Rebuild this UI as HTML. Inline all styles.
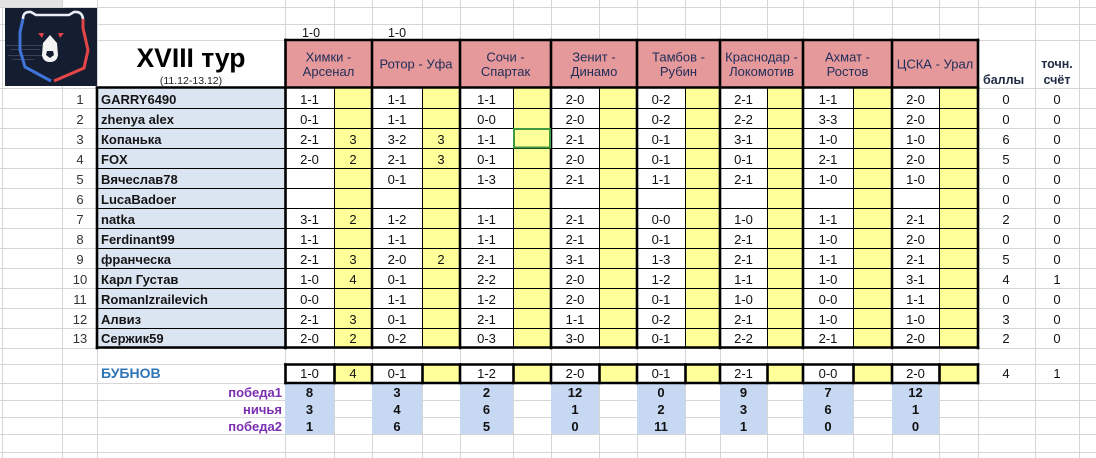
<!DOCTYPE html>
<html><head><meta charset="utf-8"><style>
html,body{margin:0;padding:0;background:#fff;}
svg{display:block;}
text{font-family:"Liberation Sans","Noto Sans CJK SC",sans-serif;}
</style></head><body>
<svg width="1096" height="458" viewBox="0 0 1096 458" xmlns="http://www.w3.org/2000/svg">
<rect x="0" y="0" width="1096" height="458" fill="#fff"/>
<!-- gridlines -->
<g stroke="#d6d6d6" stroke-width="1">
<line x1="2.5" y1="0" x2="2.5" y2="458"/><line x1="62.5" y1="0" x2="62.5" y2="458"/><line x1="97.5" y1="0" x2="97.5" y2="458"/>
<line x1="285.5" y1="0" x2="285.5" y2="458"/><line x1="334.5" y1="0" x2="334.5" y2="458"/><line x1="372.5" y1="0" x2="372.5" y2="458"/>
<line x1="422.5" y1="0" x2="422.5" y2="458"/><line x1="460.5" y1="0" x2="460.5" y2="458"/><line x1="513.5" y1="0" x2="513.5" y2="458"/>
<line x1="551.5" y1="0" x2="551.5" y2="458"/><line x1="599.5" y1="0" x2="599.5" y2="458"/><line x1="637.5" y1="0" x2="637.5" y2="458"/>
<line x1="685.5" y1="0" x2="685.5" y2="458"/><line x1="720.5" y1="0" x2="720.5" y2="458"/><line x1="767.5" y1="0" x2="767.5" y2="458"/>
<line x1="803.5" y1="0" x2="803.5" y2="458"/><line x1="853.5" y1="0" x2="853.5" y2="458"/><line x1="892.5" y1="0" x2="892.5" y2="458"/>
<line x1="939.5" y1="0" x2="939.5" y2="458"/><line x1="978.5" y1="0" x2="978.5" y2="458"/><line x1="1035.5" y1="0" x2="1035.5" y2="458"/>
<line x1="1079.5" y1="0" x2="1079.5" y2="458"/>
<line x1="0" y1="7.5" x2="1096" y2="7.5"/><line x1="0" y1="24.5" x2="1096" y2="24.5"/><line x1="0" y1="40.5" x2="1096" y2="40.5"/>
<line x1="0" y1="88.5" x2="1096" y2="88.5"/><line x1="0" y1="108.5" x2="1096" y2="108.5"/><line x1="0" y1="128.5" x2="1096" y2="128.5"/>
<line x1="0" y1="148.5" x2="1096" y2="148.5"/><line x1="0" y1="168.5" x2="1096" y2="168.5"/><line x1="0" y1="188.5" x2="1096" y2="188.5"/>
<line x1="0" y1="208.5" x2="1096" y2="208.5"/><line x1="0" y1="228.5" x2="1096" y2="228.5"/><line x1="0" y1="248.5" x2="1096" y2="248.5"/>
<line x1="0" y1="268.5" x2="1096" y2="268.5"/><line x1="0" y1="288.5" x2="1096" y2="288.5"/><line x1="0" y1="308.5" x2="1096" y2="308.5"/>
<line x1="0" y1="328.5" x2="1096" y2="328.5"/><line x1="0" y1="348.5" x2="1096" y2="348.5"/><line x1="0" y1="364.5" x2="1096" y2="364.5"/>
<line x1="0" y1="383.5" x2="1096" y2="383.5"/><line x1="0" y1="400.5" x2="1096" y2="400.5"/><line x1="0" y1="417.5" x2="1096" y2="417.5"/>
<line x1="0" y1="434.5" x2="1096" y2="434.5"/><line x1="0" y1="452.5" x2="1096" y2="452.5"/>
</g>
<rect x="0" y="0" width="62" height="7" fill="#e4e4e4"/>
<!-- title area white -->
<rect x="98" y="41" width="187" height="47" fill="#fff"/>
<!-- header pink -->
<rect x="285" y="40" width="693" height="48" fill="#e6999b"/>
<!-- name column -->
<rect x="97" y="88" width="188" height="260" fill="#dbe5f1"/>
<!-- score columns white -->
<g fill="#fff">
<rect x="285" y="88" width="49" height="260"/><rect x="372" y="88" width="50" height="260"/><rect x="460" y="88" width="53" height="260"/>
<rect x="551" y="88" width="48" height="260"/><rect x="637" y="88" width="48" height="260"/><rect x="720" y="88" width="47" height="260"/>
<rect x="803" y="88" width="50" height="260"/><rect x="892" y="88" width="47" height="260"/>
<rect x="285" y="364" width="49" height="19"/><rect x="372" y="364" width="50" height="19"/><rect x="460" y="364" width="53" height="19"/>
<rect x="551" y="364" width="48" height="19"/><rect x="637" y="364" width="48" height="19"/><rect x="720" y="364" width="47" height="19"/>
<rect x="803" y="364" width="50" height="19"/><rect x="892" y="364" width="47" height="19"/>
</g>
<!-- yellow pts columns -->
<g fill="#ffff99">
<rect x="334" y="88" width="38" height="260"/><rect x="422" y="88" width="38" height="260"/><rect x="513" y="88" width="38" height="260"/>
<rect x="599" y="88" width="38" height="260"/><rect x="685" y="88" width="35" height="260"/><rect x="767" y="88" width="36" height="260"/>
<rect x="853" y="88" width="39" height="260"/><rect x="939" y="88" width="39" height="260"/>
<rect x="334" y="364" width="38" height="19"/><rect x="422" y="364" width="38" height="19"/><rect x="513" y="364" width="38" height="19"/>
<rect x="599" y="364" width="38" height="19"/><rect x="685" y="364" width="35" height="19"/><rect x="767" y="364" width="36" height="19"/>
<rect x="853" y="364" width="39" height="19"/><rect x="939" y="364" width="39" height="19"/>
</g>
<!-- stats blue -->
<g fill="#c7d8f2">
<rect x="285" y="384" width="49" height="50"/><rect x="372" y="384" width="50" height="50"/><rect x="460" y="384" width="53" height="50"/>
<rect x="551" y="384" width="48" height="50"/><rect x="637" y="384" width="48" height="50"/><rect x="720" y="384" width="47" height="50"/>
<rect x="803" y="384" width="50" height="50"/><rect x="892" y="384" width="47" height="50"/>
</g>
<!-- thin black row lines -->
<g stroke="#000" stroke-width="1">
<line x1="97" y1="108.5" x2="978" y2="108.5"/><line x1="97" y1="128.5" x2="978" y2="128.5"/><line x1="97" y1="148.5" x2="978" y2="148.5"/>
<line x1="97" y1="168.5" x2="978" y2="168.5"/><line x1="97" y1="188.5" x2="978" y2="188.5"/><line x1="97" y1="208.5" x2="978" y2="208.5"/>
<line x1="97" y1="228.5" x2="978" y2="228.5"/><line x1="97" y1="248.5" x2="978" y2="248.5"/><line x1="97" y1="268.5" x2="978" y2="268.5"/>
<line x1="97" y1="288.5" x2="978" y2="288.5"/><line x1="97" y1="308.5" x2="978" y2="308.5"/><line x1="97" y1="328.5" x2="978" y2="328.5"/>
<line x1="334.5" y1="88" x2="334.5" y2="348"/><line x1="422.5" y1="88" x2="422.5" y2="348"/><line x1="513.5" y1="88" x2="513.5" y2="348"/>
<line x1="599.5" y1="88" x2="599.5" y2="348"/><line x1="685.5" y1="88" x2="685.5" y2="348"/><line x1="767.5" y1="88" x2="767.5" y2="348"/>
<line x1="853.5" y1="88" x2="853.5" y2="348"/><line x1="939.5" y1="88" x2="939.5" y2="348"/>
</g>
<!-- thick black lines -->
<g stroke="#000" stroke-width="2.6" stroke-linecap="square">
<line x1="285.5" y1="40" x2="978" y2="40"/>
<line x1="97" y1="87.5" x2="978" y2="87.5"/>
<line x1="97" y1="347.5" x2="978" y2="347.5"/>
<line x1="97" y1="88" x2="97" y2="348"/>
<line x1="285.5" y1="40" x2="285.5" y2="348"/><line x1="372" y1="40" x2="372" y2="348"/><line x1="460" y1="40" x2="460" y2="348"/>
<line x1="551" y1="40" x2="551" y2="348"/><line x1="637" y1="40" x2="637" y2="348"/><line x1="720" y1="40" x2="720" y2="348"/>
<line x1="803" y1="40" x2="803" y2="348"/><line x1="892" y1="40" x2="892" y2="348"/><line x1="978" y1="40" x2="978" y2="348"/>
<line x1="285.5" y1="364.5" x2="978" y2="364.5"/><line x1="285.5" y1="383" x2="978" y2="383"/>
<line x1="285.5" y1="364.5" x2="285.5" y2="383"/><line x1="334.5" y1="364.5" x2="334.5" y2="383"/><line x1="372" y1="364.5" x2="372" y2="383"/>
<line x1="422.5" y1="364.5" x2="422.5" y2="383"/><line x1="460" y1="364.5" x2="460" y2="383"/><line x1="513.5" y1="364.5" x2="513.5" y2="383"/>
<line x1="551" y1="364.5" x2="551" y2="383"/><line x1="599.5" y1="364.5" x2="599.5" y2="383"/><line x1="637" y1="364.5" x2="637" y2="383"/>
<line x1="685.5" y1="364.5" x2="685.5" y2="383"/><line x1="720" y1="364.5" x2="720" y2="383"/><line x1="767.5" y1="364.5" x2="767.5" y2="383"/>
<line x1="803" y1="364.5" x2="803" y2="383"/><line x1="853.5" y1="364.5" x2="853.5" y2="383"/><line x1="892" y1="364.5" x2="892" y2="383"/>
<line x1="939.5" y1="364.5" x2="939.5" y2="383"/><line x1="978" y1="364.5" x2="978" y2="383"/>
</g>
<!-- selection -->
<rect x="514" y="129" width="36" height="18.5" fill="none" stroke="#3f9a3f" stroke-width="2"/>
<!-- logo -->
<rect x="5" y="8" width="92" height="78" fill="#151d30"/>
<g opacity="0.25" fill="#9fb3d6">
<rect x="6" y="45" width="40" height="1"/><rect x="10" y="49" width="30" height="1"/><rect x="8" y="55" width="36" height="1"/><rect x="12" y="59" width="22" height="1"/>
</g>
<path d="M23,19 Q23,11 31,12 L36,15 L69,15 L74,12 Q82,11 83,19" fill="none" stroke="#e8ecf4" stroke-width="2.6"/>
<path d="M23,19 L20,32 L20,50 L25,67 L51,81" fill="none" stroke="#3f74d8" stroke-width="3"/>
<path d="M83,19 L83,28 L88,50 L84,68 L54,81" fill="none" stroke="#e34646" stroke-width="3"/>
<polygon points="38,33 44,33 42,38" fill="#e0404a"/><polygon points="58,33 64,33 60,38" fill="#e0404a"/>
<path d="M50,35 L57,43 L58,55 Q57,62 50,62 Q43,62 42,55 L43,43 Z" fill="#f4f4f4"/>
<path d="M47,51 L53,51 L54,55 L50,58 L46,55 Z" fill="#151d30"/>
<!-- title -->
<text x="191" y="67" font-size="26.5" font-weight="bold" text-anchor="middle" fill="#000">XVIII тур</text>
<text x="191" y="84" font-size="10.5" text-anchor="middle" fill="#222">(11.12-13.12)</text>
<!-- top 1-0 -->
<text x="311" y="37" font-size="12.5" text-anchor="middle" fill="#111">1-0</text>
<text x="397" y="37" font-size="12.5" text-anchor="middle" fill="#111">1-0</text>
<!-- match headers -->
<g font-size="13" text-anchor="middle" fill="#1f2d58">
<text x="328.5" y="61.5">Химки -</text><text x="328.5" y="76">Арсенал</text>
<text x="416" y="68.5">Ротор - Уфа</text>
<text x="505.5" y="61.5">Сочи -</text><text x="505.5" y="76">Спартак</text>
<text x="594" y="61.5">Зенит -</text><text x="594" y="76">Динамо</text>
<text x="678.5" y="61.5">Тамбов -</text><text x="678.5" y="76">Рубин</text>
<text x="761.5" y="61.5">Краснодар -</text><text x="761.5" y="76">Локомотив</text>
<text x="847.5" y="61.5">Ахмат -</text><text x="847.5" y="76">Ростов</text>
<text x="935" y="68.5">ЦСКА - Урал</text>
</g>
<g font-size="12.5" font-weight="bold" fill="#1f2a44">
<text x="983" y="84">баллы</text>
<text x="1057" y="68" text-anchor="middle">точн.</text>
<text x="1057" y="84" text-anchor="middle">счёт</text>
</g>
<!-- row numbers -->
<g font-size="13" text-anchor="middle" fill="#333">
<text x="80" y="104">1</text><text x="80" y="124">2</text><text x="80" y="144">3</text><text x="80" y="164">4</text>
<text x="80" y="184">5</text><text x="80" y="204">6</text><text x="80" y="224">7</text><text x="80" y="244">8</text>
<text x="80" y="264">9</text><text x="80" y="284">10</text><text x="80" y="304">11</text><text x="80" y="324">12</text><text x="80" y="343">13</text>
</g>
<!-- names -->
<g font-size="13" font-weight="bold" fill="#151515">
<text x="101" y="104">GARRY6490</text><text x="101" y="124">zhenya alex</text><text x="101" y="144">Копанька</text>
<text x="101" y="164">FOX</text><text x="101" y="184">Вячеслав78</text><text x="101" y="204">LucaBadoer</text>
<text x="101" y="224">natka</text><text x="101" y="244">Ferdinant99</text><text x="101" y="264">франческа</text>
<text x="101" y="284">Карл Густав</text><text x="101" y="304">RomanIzrailevich</text><text x="101" y="324">Алвиз</text>
<text x="101" y="343">Сержик59</text>
</g>
<!-- scores -->
<g font-size="13" text-anchor="middle" fill="#111">
<text y="104"><tspan x="309.5">1-1</tspan><tspan x="397">1-1</tspan><tspan x="486.5">1-1</tspan><tspan x="575">2-0</tspan><tspan x="661">0-2</tspan><tspan x="743.5">2-1</tspan><tspan x="828">1-1</tspan><tspan x="915.5">2-0</tspan><tspan x="1006">0</tspan><tspan x="1057">0</tspan></text>
<text y="124"><tspan x="309.5">0-1</tspan><tspan x="397">1-1</tspan><tspan x="486.5">0-0</tspan><tspan x="575">2-0</tspan><tspan x="661">0-2</tspan><tspan x="743.5">2-2</tspan><tspan x="828">3-3</tspan><tspan x="915.5">2-0</tspan><tspan x="1006">0</tspan><tspan x="1057">0</tspan></text>
<text y="144"><tspan x="309.5">2-1</tspan><tspan x="353">3</tspan><tspan x="397">3-2</tspan><tspan x="441">3</tspan><tspan x="486.5">1-1</tspan><tspan x="575">2-1</tspan><tspan x="661">0-1</tspan><tspan x="743.5">3-1</tspan><tspan x="828">1-0</tspan><tspan x="915.5">1-0</tspan><tspan x="1006">6</tspan><tspan x="1057">0</tspan></text>
<text y="164"><tspan x="309.5">2-0</tspan><tspan x="353">2</tspan><tspan x="397">2-1</tspan><tspan x="441">3</tspan><tspan x="486.5">0-1</tspan><tspan x="575">2-0</tspan><tspan x="661">0-1</tspan><tspan x="743.5">0-1</tspan><tspan x="828">2-1</tspan><tspan x="915.5">2-0</tspan><tspan x="1006">5</tspan><tspan x="1057">0</tspan></text>
<text y="184"><tspan x="397">0-1</tspan><tspan x="486.5">1-3</tspan><tspan x="575">2-1</tspan><tspan x="661">1-1</tspan><tspan x="743.5">2-1</tspan><tspan x="828">1-0</tspan><tspan x="915.5">1-0</tspan><tspan x="1006">0</tspan><tspan x="1057">0</tspan></text>
<text y="204"><tspan x="1006">0</tspan><tspan x="1057">0</tspan></text>
<text y="224"><tspan x="309.5">3-1</tspan><tspan x="353">2</tspan><tspan x="397">1-2</tspan><tspan x="486.5">1-1</tspan><tspan x="575">2-1</tspan><tspan x="661">0-0</tspan><tspan x="743.5">1-0</tspan><tspan x="828">1-1</tspan><tspan x="915.5">2-1</tspan><tspan x="1006">2</tspan><tspan x="1057">0</tspan></text>
<text y="244"><tspan x="309.5">1-1</tspan><tspan x="397">1-1</tspan><tspan x="486.5">1-1</tspan><tspan x="575">2-1</tspan><tspan x="661">0-1</tspan><tspan x="743.5">2-1</tspan><tspan x="828">1-0</tspan><tspan x="915.5">2-0</tspan><tspan x="1006">0</tspan><tspan x="1057">0</tspan></text>
<text y="264"><tspan x="309.5">2-1</tspan><tspan x="353">3</tspan><tspan x="397">2-0</tspan><tspan x="441">2</tspan><tspan x="486.5">2-1</tspan><tspan x="575">3-1</tspan><tspan x="661">1-3</tspan><tspan x="743.5">2-1</tspan><tspan x="828">1-1</tspan><tspan x="915.5">2-1</tspan><tspan x="1006">5</tspan><tspan x="1057">0</tspan></text>
<text y="284"><tspan x="309.5">1-0</tspan><tspan x="353">4</tspan><tspan x="397">0-1</tspan><tspan x="486.5">2-2</tspan><tspan x="575">2-0</tspan><tspan x="661">1-2</tspan><tspan x="743.5">1-1</tspan><tspan x="828">1-0</tspan><tspan x="915.5">3-1</tspan><tspan x="1006">4</tspan><tspan x="1057">1</tspan></text>
<text y="304"><tspan x="309.5">0-0</tspan><tspan x="397">1-1</tspan><tspan x="486.5">1-2</tspan><tspan x="575">2-0</tspan><tspan x="661">0-1</tspan><tspan x="743.5">1-0</tspan><tspan x="828">0-0</tspan><tspan x="915.5">1-1</tspan><tspan x="1006">0</tspan><tspan x="1057">0</tspan></text>
<text y="324"><tspan x="309.5">2-1</tspan><tspan x="353">3</tspan><tspan x="397">0-1</tspan><tspan x="486.5">2-1</tspan><tspan x="575">1-1</tspan><tspan x="661">0-2</tspan><tspan x="743.5">2-1</tspan><tspan x="828">1-0</tspan><tspan x="915.5">1-0</tspan><tspan x="1006">3</tspan><tspan x="1057">0</tspan></text>
<text y="343"><tspan x="309.5">2-0</tspan><tspan x="353">2</tspan><tspan x="397">0-2</tspan><tspan x="486.5">0-3</tspan><tspan x="575">3-0</tspan><tspan x="661">0-1</tspan><tspan x="743.5">2-2</tspan><tspan x="828">2-1</tspan><tspan x="915.5">2-0</tspan><tspan x="1006">2</tspan><tspan x="1057">0</tspan></text>
<text y="378"><tspan x="309.5">1-0</tspan><tspan x="353">4</tspan><tspan x="397">0-1</tspan><tspan x="486.5">1-2</tspan><tspan x="575">2-0</tspan><tspan x="661">0-1</tspan><tspan x="743.5">2-1</tspan><tspan x="828">0-0</tspan><tspan x="915.5">2-0</tspan><tspan x="1006">4</tspan><tspan x="1057">1</tspan></text>
</g>
<!-- bubnov -->
<text x="101" y="378" font-size="14" font-weight="bold" fill="#2e74b5">БУБНОВ</text>
<!-- stats labels -->
<g font-size="13" font-weight="bold" text-anchor="end" fill="#7b2fb0">
<text x="282" y="397">победа1</text><text x="282" y="414">ничья</text><text x="282" y="431">победа2</text>
</g>
<g font-size="13" font-weight="bold" text-anchor="middle" fill="#111">
<text y="397"><tspan x="309.5">8</tspan><tspan x="397">3</tspan><tspan x="486.5">2</tspan><tspan x="575">12</tspan><tspan x="661">0</tspan><tspan x="743.5">9</tspan><tspan x="828">7</tspan><tspan x="915.5">12</tspan></text>
<text y="414"><tspan x="309.5">3</tspan><tspan x="397">4</tspan><tspan x="486.5">6</tspan><tspan x="575">1</tspan><tspan x="661">2</tspan><tspan x="743.5">3</tspan><tspan x="828">6</tspan><tspan x="915.5">1</tspan></text>
<text y="431"><tspan x="309.5">1</tspan><tspan x="397">6</tspan><tspan x="486.5">5</tspan><tspan x="575">0</tspan><tspan x="661">11</tspan><tspan x="743.5">1</tspan><tspan x="828">0</tspan><tspan x="915.5">0</tspan></text>
</g>
</svg>
</body></html>
